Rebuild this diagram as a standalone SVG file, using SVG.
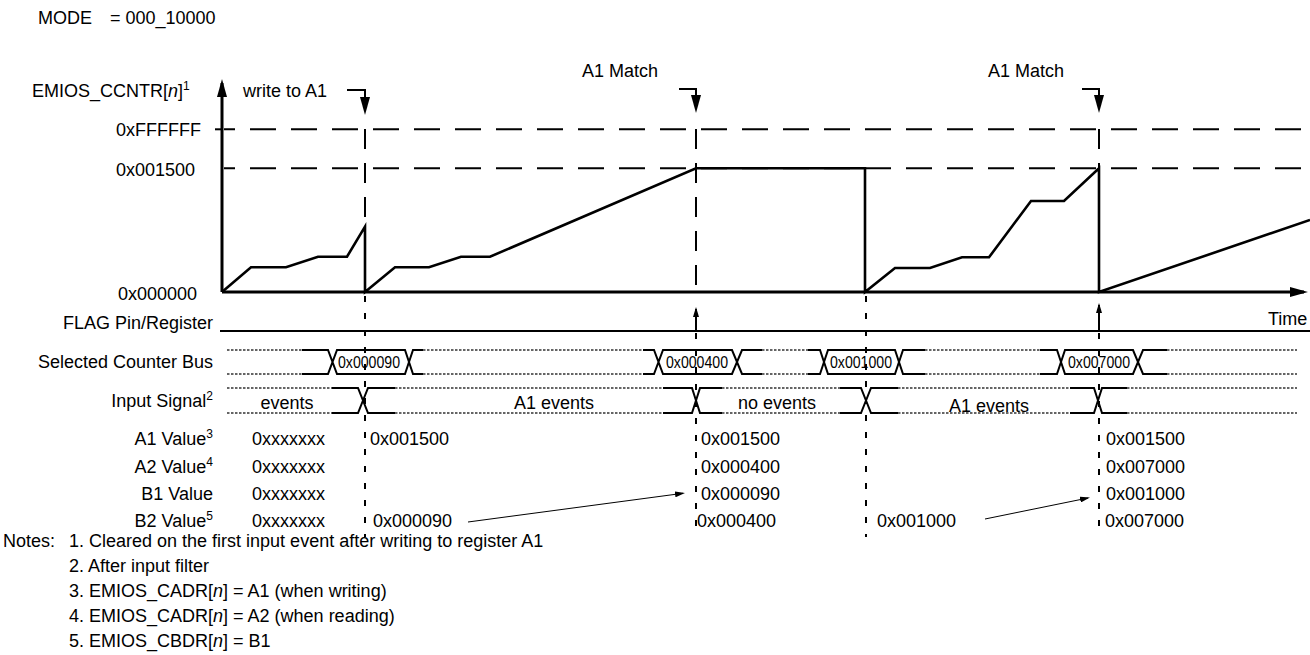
<svg xmlns="http://www.w3.org/2000/svg" width="1310" height="655" viewBox="0 0 1310 655">
<style>
text{font-family:"Liberation Sans",Arial,Helvetica,sans-serif;font-size:18px;fill:#000}
.r{text-anchor:end}
.m{text-anchor:middle}
.bl{font-size:16px;text-anchor:middle}
.sup{font-size:12px}
.ax{stroke:#000;stroke-width:3;fill:none}
.wave{stroke:#000;stroke-width:2.6;fill:none;stroke-linejoin:miter}
.hd{stroke:#000;stroke-width:2;stroke-dasharray:26 15;stroke-dashoffset:15}
.vd{stroke:#000;stroke-width:2;stroke-dasharray:20 14}
.vl{stroke:#000;stroke-width:2;stroke-dasharray:6 11}
.sig{stroke:#000;stroke-width:2;fill:none}
.dot{stroke:#333;stroke-width:1.3;stroke-dasharray:2.5 1.5;fill:none}
.thin{stroke:#000;stroke-width:1;fill:none}
.mk{stroke:#000;stroke-width:2;fill:none}
</style>
<defs>
<marker id="big" markerUnits="userSpaceOnUse" viewBox="0 0 18 10" markerWidth="18" markerHeight="10" refX="14" refY="5" orient="auto"><path d="M0,0 L18,5 L0,10 Z" fill="#000"/></marker>
<marker id="sm" markerUnits="userSpaceOnUse" viewBox="0 0 10 6" markerWidth="10" markerHeight="6" refX="8" refY="3" orient="auto"><path d="M0,0 L10,3 L0,6 Z" fill="#000"/></marker>
</defs>

<text x="38" y="24">MODE</text>
<text x="110" y="24">= 000_10000</text>

<g id="counter-axis">
<text x="32" y="97">EMIOS_CCNTR[<tspan font-style="italic">n</tspan>]<tspan class="sup" dy="-7">1</tspan></text>
<text x="116" y="136">0xFFFFFF</text>
<text x="116" y="176">0x001500</text>
<text x="118" y="300">0x000000</text>
<line class="hd" x1="224" y1="129.3" x2="1310" y2="129.3"/>
<line x1="215" y1="129.3" x2="222" y2="129.3" stroke="#000" stroke-width="2"/>
<line class="hd" x1="224" y1="168.3" x2="1310" y2="168.3"/>
<path class="ax" d="M222,292 V83" marker-end="url(#big)"/>
<path class="ax" d="M222,292 H1304" marker-end="url(#big)"/>
<text x="1268" y="325">Time</text>
</g>

<g id="counter-wave">
<path class="wave" d="M222,292 L251,267.3 H286 L318,256.7 H347 L365,226.7 V292 L395,267.3 H429 L461,256.7 H490 L696,168.3 H865 V292 L895,268 H930 L962,257.3 H989 L1031,201 H1064 L1099,168.3 V292 L1310,220"/>
</g>

<g id="event-markers">
<text x="243" y="97">write to A1</text>
<text x="582" y="77">A1 Match</text>
<text x="988" y="77">A1 Match</text>
<line class="vd" x1="365" y1="129" x2="365" y2="292"/>
<line class="vd" x1="696" y1="129" x2="696" y2="292"/>
<line class="vd" x1="1099" y1="129" x2="1099" y2="168"/>
<line class="vl" x1="365" y1="296" x2="365" y2="537"/>
<line class="vl" x1="696" y1="333" x2="696" y2="537"/>
<line class="vl" x1="866" y1="296" x2="866" y2="537"/>
<line class="vl" x1="1099" y1="333" x2="1099" y2="537"/>
</g>

<g id="flag-row">
<text class="r" x="213" y="329">FLAG Pin/Register</text>
<line x1="220" y1="331" x2="1310" y2="331" stroke="#000" stroke-width="2"/>
</g>

<g id="bus-row">
<text class="r" x="213" y="368">Selected Counter Bus</text>
<path class="dot" d="M227,350 H302 M227,374 H302 M423,350 H643 M423,374 H643 M762,350 H808 M762,374 H808 M925,350 H1040 M925,374 H1040 M1167,350 H1297 M1167,374 H1297"/>
<path class="sig" d="M302,350 H328 L337,374 H405 L413,350 H423 M302,374 H328 L337,350 H405 L413,374 H423"/>
<path class="sig" d="M643,350 H654 L663,374 H732 L742,350 H762 M643,374 H654 L663,350 H732 L742,374 H762"/>
<path class="sig" d="M808,350 H820 L828,374 H895 L903,350 H925 M808,374 H820 L828,350 H895 L903,374 H925"/>
<path class="sig" d="M1040,350 H1057 L1065,374 H1133 L1143,350 H1167 M1040,374 H1057 L1065,350 H1133 L1143,374 H1167"/>
<text class="bl" x="369" y="368" textLength="62" lengthAdjust="spacingAndGlyphs">0x000090</text>
<text class="bl" x="697" y="368" textLength="62" lengthAdjust="spacingAndGlyphs">0x000400</text>
<text class="bl" x="861" y="368" textLength="62" lengthAdjust="spacingAndGlyphs">0x001000</text>
<text class="bl" x="1099" y="368" textLength="62" lengthAdjust="spacingAndGlyphs">0x007000</text>
</g>

<g id="input-row">
<text class="r" x="213" y="407">Input Signal<tspan class="sup" dy="-7">2</tspan></text>
<path class="dot" d="M227,388 H332 M227,413 H332 M395,388 H663 M395,413 H663 M722,388 H840 M722,413 H840 M898,388 H1070 M898,413 H1070 M1127,388 H1297 M1127,413 H1297"/>
<path class="sig" d="M332,388 H358 L368,413 H395 M332,413 H358 L368,388 H395"/>
<path class="sig" d="M663,388 H692 L700,413 H722 M663,413 H692 L700,388 H722"/>
<path class="sig" d="M840,388 H861 L871,413 H898 M840,413 H861 L871,388 H898"/>
<path class="sig" d="M1070,388 H1094 L1102,413 H1127 M1070,413 H1094 L1102,388 H1127"/>
<text class="m" x="287" y="409">events</text>
<text class="m" x="554" y="409">A1 events</text>
<text class="m" x="777" y="409">no events</text>
<text class="m" x="989" y="412">A1 events</text>
</g>

<g id="values">
<text class="r" x="213" y="445">A1 Value<tspan class="sup" dy="-7">3</tspan></text>
<text class="r" x="213" y="473">A2 Value<tspan class="sup" dy="-7">4</tspan></text>
<text class="r" x="213" y="500">B1 Value</text>
<text class="r" x="213" y="527">B2 Value<tspan class="sup" dy="-7">5</tspan></text>
<text x="252" y="445">0xxxxxxx</text>
<text x="252" y="473">0xxxxxxx</text>
<text x="252" y="500">0xxxxxxx</text>
<text x="252" y="527">0xxxxxxx</text>
<text x="370" y="445">0x001500</text>
<text x="373" y="527">0x000090</text>
<text x="701" y="445">0x001500</text>
<text x="701" y="473">0x000400</text>
<text x="701" y="500">0x000090</text>
<text x="697" y="527">0x000400</text>
<text x="877" y="527">0x001000</text>
<text x="1106" y="445">0x001500</text>
<text x="1106" y="473">0x007000</text>
<text x="1106" y="500">0x001000</text>
<text x="1105" y="527">0x007000</text>
</g>

<g id="connectors">
<path class="mk" d="M347,90 H365 V111" marker-end="url(#big)"/>
<path class="mk" d="M679,89 H696 V109" marker-end="url(#big)"/>
<path class="mk" d="M1082,89 H1099 V109" marker-end="url(#big)"/>
<path class="sig" d="M696,331 V309" marker-end="url(#sm)" stroke-width="1.5"/>
<path class="sig" d="M1099,331 V305" marker-end="url(#sm)" stroke-width="1.5"/>
<path class="thin" d="M468,522 L683,493.3" marker-end="url(#sm)"/>
<path class="thin" d="M985,519 L1088,498" marker-end="url(#sm)"/>
</g>

<g id="notes">
<text x="3" y="547">Notes:</text>
<text x="69" y="547">1. Cleared on the first input event after writing to register A1</text>
<text x="69" y="572">2. After input filter</text>
<text x="69" y="597">3. EMIOS_CADR[<tspan font-style="italic">n</tspan>] = A1 (when writing)</text>
<text x="69" y="622">4. EMIOS_CADR[<tspan font-style="italic">n</tspan>] = A2 (when reading)</text>
<text x="69" y="647">5. EMIOS_CBDR[<tspan font-style="italic">n</tspan>] = B1</text>
</g>
</svg>
